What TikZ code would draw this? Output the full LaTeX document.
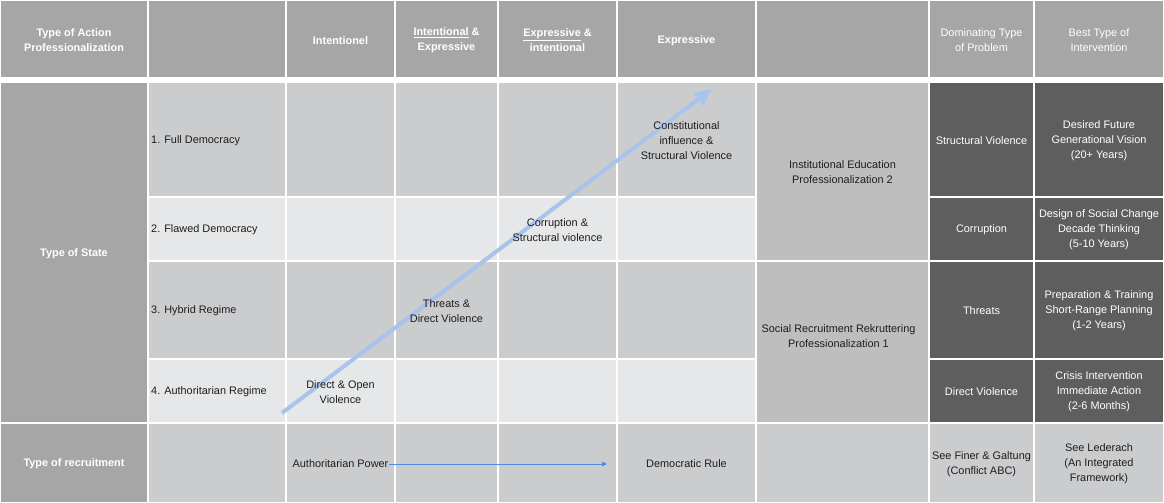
\documentclass[tikz,border=0pt]{standalone}
\usepackage{fontspec}
\setmainfont{Liberation Sans}
\usetikzlibrary{arrows.meta}
\definecolor{hdrgray}{HTML}{A6A6A6}
\definecolor{cellA}{HTML}{CBCCCE}
\definecolor{cellB}{HTML}{E6E7E8}
\definecolor{cellM}{HTML}{BEBEBE}
\definecolor{cellD}{HTML}{5E5E5E}
\definecolor{txtc}{HTML}{1E1E1E}
\definecolor{bigarrow}{HTML}{A8C4EC}
\definecolor{smallarrow}{HTML}{4A8FE4}
\newcommand\ulwords[1]{\underline{#1}}
\begin{document}
\begin{tikzpicture}[x=1pt,y=-1pt,
  cellbox/.style={draw=white,line width=1.2pt},
  txt/.style={font=\fontsize{10.9}{15}\selectfont,align=center,inner sep=0pt,text=txtc,yshift=-1pt},
  hdrtxt/.style={txt,font=\fontsize{10.9}{15}\selectfont\bfseries,text=white},
  wtxt/.style={txt,text=white},
  leftxt/.style={txt,anchor=west,align=left}]
\useasboundingbox (0,0) rectangle (1164,503);
\fill[white] (0,0) rectangle (1164,503);
% header row
\foreach \a/\b in {0/148,148/286,286/395,395/498,498/617,617/756,756/929,929/1034,1034/1164}
  \filldraw[cellbox,fill=hdrgray] (\a,0) rectangle (\b,78);
% left column
\filldraw[cellbox,fill=hdrgray] (0,82) rectangle (148,423);
\filldraw[cellbox,fill=hdrgray] (0,423) rectangle (148,503);
% body rows
\foreach \a/\b in {148/286,286/395,395/498,498/617,617/756}{
  \filldraw[cellbox,fill=cellA] (\a,82) rectangle (\b,197);
  \filldraw[cellbox,fill=cellB] (\a,197) rectangle (\b,261);
  \filldraw[cellbox,fill=cellA] (\a,261) rectangle (\b,359);
  \filldraw[cellbox,fill=cellB] (\a,359) rectangle (\b,423);
}
\filldraw[cellbox,fill=cellM] (756,82) rectangle (929,261);
\filldraw[cellbox,fill=cellM] (756,261) rectangle (929,423);
\foreach \a/\b in {929/1034,1034/1164}{
  \filldraw[cellbox,fill=cellD] (\a,82) rectangle (\b,197);
  \filldraw[cellbox,fill=cellD] (\a,197) rectangle (\b,261);
  \filldraw[cellbox,fill=cellD] (\a,261) rectangle (\b,359);
  \filldraw[cellbox,fill=cellD] (\a,359) rectangle (\b,423);
}
\foreach \a/\b in {148/286,286/395,395/498,498/617,617/756,756/929,929/1034,1034/1164}
  \filldraw[cellbox,fill=cellA] (\a,423) rectangle (\b,503);
% header texts
\node[hdrtxt] (h0) at (74,39.5) {Type of Action\\Professionalization};
\node[hdrtxt] (h1) at (340.5,39.5) {Intentionel};
\node[hdrtxt] (h2) at (446.5,39.5) {\ulwords{Intentional} \&\\Expressive};
\node[hdrtxt] (h3) at (557.5,39.5) {\ulwords{Expressive} \&\\intentional};
\node[hdrtxt] (h4) at (686.5,39.5) {Expressive};
\node[wtxt] (h5) at (981.5,39.5) {Dominating Type\\of Problem};
\node[wtxt] (h6) at (1099,39.5) {Best Type of\\Intervention};
% left column
\node[hdrtxt] (state) at (74,252.5) {Type of State};
\node[hdrtxt] (recr) at (74,463) {Type of recruitment};
\node[leftxt] (r1) at (151,139.5) {1. Full Democracy};
\node[leftxt] (r2) at (151,229) {2. Flawed Democracy};
\node[leftxt] (r3) at (151,310) {3. Hybrid Regime};
\node[leftxt] (r4) at (151,391) {4. Authoritarian Regime};
% big arrow
\coordinate (arrS) at (282,413);
\coordinate (arrE) at (712,89);
\draw[bigarrow,line width=4pt,-{Triangle[length=17pt,width=15pt]}] (arrS) -- (arrE);
% diagonal cell texts
\node[txt] (c1) at (686.5,139.5) {Constitutional\\influence \&\\Structural Violence};
\node[txt] (c2) at (557.5,229.5) {Corruption \&\\Structural violence};
\node[txt] (c3) at (446.5,310) {Threats \&\\Direct Violence};
\node[txt] (c4) at (340.5,391.5) {Direct \& Open\\Violence};
% merged cells
\node[txt] (m1) at (842.5,171.5) {Institutional Education\\Professionalization 2};
\node[txt] (m2) at (838.5,335) {Social Recruitment Rekruttering\\Professionalization 1};
% dark cells
\node[wtxt] (p1) at (981.5,139.5) {Structural Violence};
\node[wtxt] (p2) at (981.5,229) {Corruption};
\node[wtxt] (p3) at (981.5,310) {Threats};
\node[wtxt] (p4) at (981.5,391) {Direct Violence};
\node[wtxt] (i1) at (1099,139.5) {Desired Future\\Generational Vision\\(20+ Years)};
\node[wtxt] (i2) at (1099,229) {Design of Social Change\\Decade Thinking\\(5-10 Years)};
\node[wtxt] (i3) at (1099,310) {Preparation \& Training\\Short-Range Planning\\(1-2 Years)};
\node[wtxt] (i4) at (1099,391) {Crisis Intervention\\Immediate Action\\(2-6 Months)};
% bottom row
\node[txt] (auth) at (340.5,463) {Authoritarian Power};
\node[txt] (demo) at (686.5,463) {Democratic Rule};
\coordinate (authEnd) at (607,463);
\draw[smallarrow,line width=0.8pt,-{Triangle[length=5pt,width=4.5pt]}] (auth.east) -- (auth.east -| authEnd);
\node[txt] (b1) at (981.5,463) {See Finer \& Galtung\\(Conflict ABC)};
\node[txt] (b2) at (1099,463) {See Lederach\\(An Integrated\\Framework)};
\end{tikzpicture}
\end{document}
